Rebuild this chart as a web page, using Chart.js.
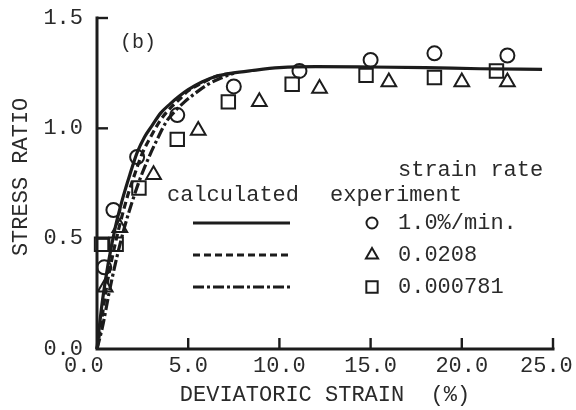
<!DOCTYPE html>
<html>
<head>
<meta charset="utf-8">
<script src="https://cdn.jsdelivr.net/npm/chart.js@4.4.1/dist/chart.umd.min.js"></script>
<style>
  html, body { margin: 0; padding: 0; background: #fff; }
  #c { display: block; }
</style>
</head>
<body>
<canvas id="c" width="576" height="410"></canvas>
<script>
// Tick labels
const xTickLabels = ['0.0', '5.0', '10.0', '15.0', '20.0', '25.0'];
const yTickLabels = ['0.0', '0.5', '1.0', '1.5'];

// Measured points, three strain rates (x = deviatoric strain %, y = stress ratio)
const rateLabels = ['1.0%/min.', '0.0208', '0.000781'];
const fastX = [0.4, 0.9, 2.2, 4.4, 7.5, 11.1, 15.0, 18.5, 22.5];
const fastY = [0.37, 0.63, 0.87, 1.06, 1.19, 1.26, 1.31, 1.34, 1.33];
const midX = [0.45, 1.25, 3.1, 5.55, 8.9, 12.2, 16.0, 20.0, 22.5];
const midY = [0.28, 0.55, 0.79, 0.99, 1.12, 1.18, 1.21, 1.21, 1.21];
const slowX = [0.25, 1.05, 2.3, 4.4, 7.2, 10.7, 14.75, 18.5, 21.9];
const slowY = [0.475, 0.475, 0.73, 0.95, 1.12, 1.20, 1.24, 1.23, 1.26];

// Calculated curves
const calcFastX = [0, 0.1, 0.3, 0.6, 1.0, 1.4, 1.8, 2.2, 2.6, 3.0, 3.5, 4.0, 4.5, 5.0, 5.75, 6.5, 7.4, 8.5, 10, 12, 15, 18, 21, 24.4];
const calcFastY = [0, 0.08, 0.22, 0.38, 0.55, 0.68, 0.79, 0.89, 0.96, 1.01, 1.07, 1.11, 1.145, 1.175, 1.21, 1.235, 1.25, 1.262, 1.275, 1.28, 1.278, 1.275, 1.27, 1.267];
const calcMidX = [0, 0.2, 0.5, 0.9, 1.3, 1.7, 2.1, 2.5, 3.0, 3.5, 4.0, 4.5, 5.0, 5.75, 6.5, 7.4];
const calcMidY = [0, 0.1, 0.27, 0.44, 0.58, 0.70, 0.80, 0.89, 0.97, 1.04, 1.09, 1.13, 1.17, 1.205, 1.235, 1.25];
const calcSlowX = [0, 0.3, 0.7, 1.1, 1.5, 1.9, 2.4, 2.85, 3.3, 3.8, 4.3, 4.8, 5.4, 6.1, 6.8, 7.5];
const calcSlowY = [0, 0.1, 0.27, 0.42, 0.55, 0.66, 0.78, 0.87, 0.95, 1.03, 1.08, 1.12, 1.16, 1.20, 1.228, 1.25];

const INK = '#1c1c1c';
const TEXT = '#2a2a2a';
const FONT = '"Liberation Mono", "DejaVu Sans Mono", monospace';
const DASHED = [7, 4];
const DASHDOT = [11, 3, 3, 3];

const pts = (xs, ys) => xs.map((x, i) => ({ x: x, y: ys[i] }));

function curve(xs, ys, dash) {
  return {
    type: 'scatter', showLine: true, data: pts(xs, ys),
    borderColor: INK, borderWidth: 3.2, borderDash: dash,
    pointRadius: 0, cubicInterpolationMode: 'monotone', clip: false
  };
}
function marks(xs, ys, style, r) {
  return {
    type: 'scatter', data: pts(xs, ys), showLine: false,
    pointStyle: style, pointRadius: r, pointHoverRadius: r,
    pointBorderWidth: 2, pointBorderColor: INK, pointBackgroundColor: 'rgba(0,0,0,0)',
    clip: false
  };
}

// Spines with inward tick marks, plus the panel tag and key
const frame = {
  id: 'frame',
  afterDatasetsDraw(chart) {
    const { ctx } = chart;
    const xs = chart.scales.x, ys = chart.scales.y;
    const x0 = xs.getPixelForValue(0), x1 = xs.getPixelForValue(25);
    const y0 = ys.getPixelForValue(0), y1 = ys.getPixelForValue(1.5);
    ctx.save();
    ctx.strokeStyle = INK;
    ctx.lineWidth = 3;
    ctx.lineCap = 'square';
    ctx.beginPath();
    ctx.moveTo(x0, y1); ctx.lineTo(x0, y0); ctx.lineTo(x1, y0);
    ctx.stroke();
    ctx.lineWidth = 2.4;
    ctx.lineCap = 'butt';
    ys.ticks.forEach(t => {
      if (t.value === 0) return;
      const y = ys.getPixelForValue(t.value);
      ctx.beginPath(); ctx.moveTo(x0, y); ctx.lineTo(x0 + 11, y); ctx.stroke();
    });
    xs.ticks.forEach(t => {
      if (t.value === 0) return;
      const x = xs.getPixelForValue(t.value);
      ctx.beginPath(); ctx.moveTo(x, y0); ctx.lineTo(x, y0 - 11); ctx.stroke();
    });

    ctx.fillStyle = TEXT;
    ctx.textBaseline = 'middle';
    ctx.textAlign = 'left';
    ctx.font = '20px ' + FONT;
    ctx.fillText('(b)', 120, 43);

    ctx.font = '22px ' + FONT;
    ctx.fillText('strain rate', 398, 170);
    ctx.fillText('calculated', 167, 195);
    ctx.fillText('experiment', 330, 195);

    const rows = [223, 255, 287];
    const dashes = [[], DASHED, DASHDOT];
    const styles = [['circle', 5.5], ['triangle', 7], ['rect', 8]];
    rows.forEach((y, i) => {
      ctx.save();
      ctx.lineWidth = 3;
      ctx.setLineDash(dashes[i]);
      ctx.beginPath(); ctx.moveTo(193, y); ctx.lineTo(290, y); ctx.stroke();
      ctx.restore();
      ctx.save();
      ctx.lineWidth = 2;
      ctx.fillStyle = 'rgba(0,0,0,0)';
      Chart.helpers.drawPoint(ctx, { pointStyle: styles[i][0], radius: styles[i][1], rotation: 0, borderWidth: 2 }, 372, y);
      ctx.restore();
      ctx.fillText(rateLabels[i], 398, y);
    });
    ctx.restore();
  }
};

new Chart(document.getElementById('c'), {
  type: 'scatter',
  data: {
    datasets: [
      curve(calcFastX, calcFastY, []),
      curve(calcMidX, calcMidY, DASHED),
      curve(calcSlowX, calcSlowY, DASHDOT),
      marks(fastX, fastY, 'circle', 7),
      marks(midX, midY, 'triangle', 8.5),
      marks(slowX, slowY, 'rect', 9.5)
    ]
  },
  options: {
    responsive: false,
    animation: false,
    devicePixelRatio: 1,
    layout: { padding: { top: 18, right: 23, left: 0, bottom: 0 } },
    plugins: { legend: { display: false }, tooltip: { enabled: false } },
    scales: {
      x: {
        type: 'linear', min: 0, max: 25,
        grid: { display: false, drawTicks: false },
        border: { display: false },
        afterBuildTicks(s) { s.ticks = xTickLabels.map(l => ({ value: parseFloat(l) })); },
        afterFit(s) { s.height = 61; s.paddingLeft = 0; s.paddingRight = 0; },
        ticks: {
          color: TEXT, padding: 4, maxRotation: 0, autoSkip: false,
          font: { family: FONT, size: 22, lineHeight: 1.2 },
          callback(v) {
            const i = xTickLabels.findIndex(l => parseFloat(l) === v);
            const l = xTickLabels[i];
            if (i === 0) return l + '  ';
            if (i === xTickLabels.length - 1) return l + ' ';
            return l;
          }
        },
        title: {
          display: true, text: 'DEVIATORIC STRAIN  (%)', color: TEXT,
          font: { family: FONT, size: 22, lineHeight: 1.2 },
          padding: { top: 0, bottom: 2 }
        }
      },
      y: {
        type: 'linear', min: 0, max: 1.5,
        grid: { display: false, drawTicks: false },
        border: { display: false },
        afterBuildTicks(s) { s.ticks = yTickLabels.map(l => ({ value: parseFloat(l) })); },
        afterFit(s) { s.width = 97; s.paddingTop = 0; s.paddingBottom = 0; },
        ticks: {
          color: TEXT, padding: 14,
          font: { family: FONT, size: 22, lineHeight: 1.2 },
          callback(v) { return yTickLabels.find(l => parseFloat(l) === v); }
        },
        title: {
          display: true, text: ' STRESS RATIO', color: TEXT,
          font: { family: FONT, size: 22, lineHeight: 1.2 },
          padding: { top: 8, bottom: 0 }
        }
      }
    }
  },
  plugins: [frame]
});
</script>
</body>
</html>
